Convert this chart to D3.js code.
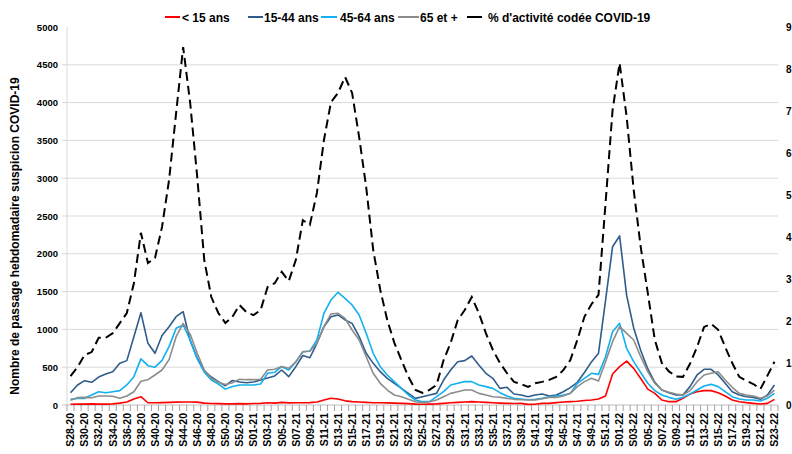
<!DOCTYPE html>
<html><head><meta charset="utf-8">
<script src="https://cdn.jsdelivr.net/npm/d3@7"></script>
<style>
body{margin:0;background:#fff}
svg{display:block;font-family:"Liberation Sans",Arial,sans-serif;font-weight:bold}
</style></head>
<body><svg id="c" width="792" height="454"></svg>
<script>
const weeks = ["S28-20","S29-20","S30-20","S31-20","S32-20","S33-20","S34-20","S35-20","S36-20","S37-20","S38-20","S39-20","S40-20","S41-20","S42-20","S43-20","S44-20","S45-20","S46-20","S47-20","S48-20","S49-20","S50-20","S51-20","S52-20","S53-20",
"S01-21","S02-21","S03-21","S04-21","S05-21","S06-21","S07-21","S08-21","S09-21","S10-21","S11-21","S12-21","S13-21","S14-21","S15-21","S16-21","S17-21","S18-21","S19-21","S20-21","S21-21","S22-21","S23-21","S24-21","S25-21","S26-21","S27-21","S28-21","S29-21","S30-21","S31-21","S32-21","S33-21","S34-21","S35-21","S36-21","S37-21","S38-21","S39-21","S40-21","S41-21","S42-21","S43-21","S44-21","S45-21","S46-21","S47-21","S48-21","S49-21","S50-21","S51-21","S52-21",
"S01-22","S02-22","S03-22","S04-22","S05-22","S06-22","S07-22","S08-22","S09-22","S10-22","S11-22","S12-22","S13-22","S14-22","S15-22","S16-22","S17-22","S18-22","S19-22","S20-22","S21-22","S22-22","S23-22"];

const seriesNames = ["< 15 ans","15-44 ans","45-64 ans","65 et +","% d'activité codée COVID-19"];

const under15 = [10,12,12,15,12,12,15,25,40,80,110,30,30,32,35,38,40,40,38,25,20,18,15,15,18,15,
20,22,30,25,35,28,30,30,32,40,65,90,80,55,45,40,35,30,30,28,25,22,18,12,10,12,15,22,30,35,40,45,40,35,30,25,22,20,22,8,10,22,22,31,40,44,50,60,66,79,119,410,
507,580,485,350,210,154,66,44,44,88,146,176,190,190,163,119,66,44,31,22,13,22,75];

const age15_44 = [163,265,322,300,370,410,441,551,587,904,1221,816,684,920,1036,1168,1234,850,620,450,370,309,255,325,305,295,
305,330,357,384,463,375,507,655,625,816,1036,1168,1191,1125,1080,904,684,551,441,353,287,220,154,88,110,132,154,330,463,573,587,648,529,419,353,220,234,146,132,110,132,146,119,132,176,230,300,430,570,684,1380,2094,
2236,1450,1020,720,480,300,198,163,132,132,243,397,472,472,397,287,176,132,110,101,75,132,265];

const age45_64 = [75,88,88,132,176,163,176,190,265,375,610,520,500,590,772,1014,1058,860,610,435,330,278,210,245,265,265,
265,278,419,433,507,463,570,705,715,860,1213,1389,1491,1411,1323,1191,948,684,507,397,309,220,132,66,44,44,110,176,265,287,309,309,265,243,220,163,119,88,80,70,75,88,110,119,132,154,287,353,419,405,639,970,
1080,750,573,430,287,190,132,101,75,101,146,198,251,273,243,176,110,79,66,66,53,88,154];

const age65plus = [62,97,101,95,119,119,115,88,119,176,315,335,397,463,600,904,1080,935,684,463,353,300,270,295,340,335,
335,340,463,472,510,485,570,705,712,816,1036,1204,1213,1147,992,860,639,419,287,198,132,110,75,44,31,44,66,110,154,176,198,198,154,132,110,103,88,75,70,66,66,83,101,101,119,154,243,309,353,318,573,838,
1036,948,860,639,441,287,198,168,146,132,190,309,397,419,441,330,234,154,132,119,88,119,198];

const pctCovid = [0.69,0.9,1.19,1.26,1.6,1.6,1.71,1.95,2.19,2.9,4.1,3.38,3.5,4.24,5.36,6.95,8.52,7.19,5.43,3.45,2.57,2.19,1.95,2.1,2.38,2.21,
2.14,2.26,2.81,2.9,3.17,2.95,3.45,4.4,4.29,5.05,6.31,7.21,7.43,7.81,7.43,6.38,5.19,3.69,2.74,2.02,1.48,1.07,0.67,0.36,0.29,0.36,0.48,1.07,1.48,2.02,2.26,2.57,2.19,1.71,1.31,1.0,0.76,0.55,0.5,0.43,0.52,0.55,0.6,0.67,0.83,1.07,1.55,2.1,2.4,2.62,4.8,7.02,
8.14,6.86,5.12,3.76,2.67,1.55,1.0,0.8,0.68,0.67,0.98,1.38,1.86,1.93,1.79,1.38,1.0,0.67,0.58,0.5,0.38,0.7,1.03];

const leftTicks = [0,500,1000,1500,2000,2500,3000,3500,4000,4500,5000];
const rightTicks = [0,1,2,3,4,5,6,7,8,9];

const colors = ["#FF0000","#2F5C8A","#12B0EE","#8C8C8C","#000000"];

const svg = d3.select("#c");
const x = d3.scaleBand().domain(weeks).range([67,778]);
const bw = x.bandwidth();
const y = d3.scaleLinear().domain([0,5000]).range([405,27]);
const y2 = d3.scaleLinear().domain([0,9]).range([405,27]);

// gridlines
svg.append("g").selectAll("line").data(leftTicks.filter(t=>t>0 && t<5000)).join("line")
  .attr("x1",62).attr("x2",778).attr("y1",d=>y(d)).attr("y2",d=>y(d))
  .attr("stroke","#d9d9d9").attr("stroke-width",1);
// y axis line
svg.append("line").attr("x1",67).attr("x2",67).attr("y1",y(5000)).attr("y2",y(0)).attr("stroke","#d9d9d9");
// left labels
svg.append("g").selectAll("text").data(leftTicks).join("text")
  .attr("x",58).attr("y",d=>y(d)+3.5).attr("text-anchor","end")
  .attr("font-size","9.5px").attr("fill","#000").text(d=>d);
// right labels
svg.append("g").selectAll("text").data(rightTicks).join("text")
  .attr("x",786).attr("y",d=>y2(d)+3.5).attr("text-anchor","start")
  .attr("font-size","10px").attr("fill","#000").text(d=>d);
// x axis
svg.append("line").attr("x1",62).attr("x2",778).attr("y1",405).attr("y2",405).attr("stroke","#bfbfbf");
const bounds = weeks.map(w=>x(w)).concat([x(weeks[weeks.length-1])+bw]);
svg.append("g").selectAll("line").data(bounds).join("line")
  .attr("x1",d=>d).attr("x2",d=>d).attr("y1",405).attr("y2",411)
  .attr("stroke","#8c8c8c").attr("stroke-width",0.8);
svg.append("g").selectAll("text").data(weeks.filter((w,i)=>i%2===0)).join("text")
  .attr("transform",d=>`translate(${x(d)+bw/2+3.8},413) rotate(-90)`)
  .attr("text-anchor","end").attr("font-size","10.5px").attr("fill","#000").text(d=>d);

// y title
svg.append("text").attr("transform","translate(19,236) rotate(-90)")
  .attr("text-anchor","middle").attr("font-size","12px").attr("fill","#000")
  .text("Nombre de passage hebdomadaire suspicion COVID-19");

// lines
const line = d3.line().x((d,i)=>x(weeks[i])+bw/2).y(d=>y(d));
const line2 = d3.line().x((d,i)=>x(weeks[i])+bw/2).y(d=>y2(d));
[under15,age15_44,age45_64,age65plus].forEach((s,k)=>{
  svg.append("path").datum(s).attr("d",line).attr("fill","none")
    .attr("stroke",colors[k]).attr("stroke-width",1.6).attr("stroke-linejoin","round");
});
svg.append("path").datum(pctCovid).attr("d",line2).attr("fill","none")
  .attr("stroke",colors[4]).attr("stroke-width",2).attr("stroke-dasharray","9,5");

// legend
const legX = [165,248,321,398,467];
const legW = [15,15,16,21,15];
const legGap = [2,1,3,1,6];
const lg = svg.append("g");
seriesNames.forEach((n,k)=>{
  lg.append("line").attr("x1",legX[k]).attr("x2",legX[k]+legW[k]).attr("y1",17).attr("y2",17)
    .attr("stroke",colors[k]).attr("stroke-width",2);
  lg.append("text").attr("x",legX[k]+legW[k]+legGap[k]).attr("y",21.5).attr("font-size","12px")
    .attr("fill","#000").text(n);
});
</script></body></html>
